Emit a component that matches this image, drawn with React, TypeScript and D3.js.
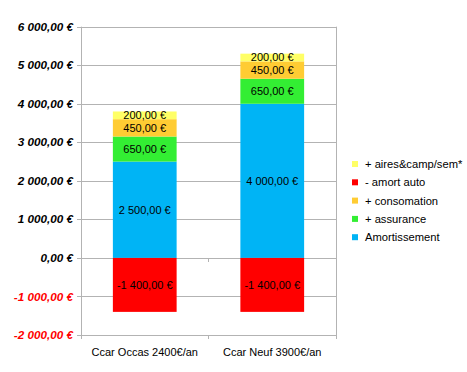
import * as d3 from "d3";
import { useEffect, useRef } from "react";

const categories = ["Ccar Occas 2400€/an", "Ccar Neuf 3900€/an"];
const amortissement = [2500, 4000];
const assurance = [650, 650];
const consomation = [450, 450];
const aires = [200, 200];
const amortAuto = [-1400, -1400];
const yTicks = [-2000, -1000, 0, 1000, 2000, 3000, 4000, 5000, 6000];

const seriesNames = ["Amortissement", "+ assurance", "+ consomation", "+ aires&camp/sem*", "- amort auto"];
const seriesColors = ["#00b4f5", "#33ee33", "#ffcc33", "#ffff66", "#ff0000"];
const legendOrder = ["+ aires&camp/sem*", "- amort auto", "+ consomation", "+ assurance", "Amortissement"];

export default function App() {
  const svgRef = useRef(null);

  useEffect(() => {
    const width = 467;
    const height = 372;
    const svg = d3.select(svgRef.current).attr("width", width).attr("height", height);
    svg.selectAll("*").remove();

    const locale = d3.formatLocale({
      decimal: ",",
      thousands: " ",
      grouping: [3],
      currency: ["", " €"],
      minus: "-",
    });
    const fmt = (v) => locale.format(",.2f")(v) + " €";

    const table = categories.map((c, i) => ({
      cat: c,
      "Amortissement": amortissement[i],
      "+ assurance": assurance[i],
      "+ consomation": consomation[i],
      "+ aires&camp/sem*": aires[i],
      "- amort auto": amortAuto[i],
    }));

    const stack = d3.stack().keys(seriesNames).offset(d3.stackOffsetDiverging);
    const series = stack(table);

    const x = d3.scaleBand().domain(categories).range([81, 336]).paddingInner(0.5).paddingOuter(0.25);
    const xOuter = d3.scaleBand().domain(categories).range([81, 336]);
    const y = d3.scaleLinear().domain([-2000, 6000]).range([335, 26.7]);

    const grid = "#b3b3b3";
    const font = "'Liberation Sans', Arial, sans-serif";

    // grid lines
    svg
      .append("g")
      .selectAll("line")
      .data(yTicks)
      .enter()
      .append("line")
      .attr("x1", 77)
      .attr("x2", 336)
      .attr("y1", (d) => Math.round(y(d)) + 0.5)
      .attr("y2", (d) => Math.round(y(d)) + 0.5)
      .attr("stroke", grid);

    // frame
    svg.append("line").attr("x1", 81.5).attr("x2", 81.5).attr("y1", y(6000)).attr("y2", 339).attr("stroke", grid);
    svg.append("line").attr("x1", 336.5).attr("x2", 336.5).attr("y1", y(6000)).attr("y2", 339).attr("stroke", grid);
    svg
      .append("line")
      .attr("x1", xOuter(categories[1]))
      .attr("x2", xOuter(categories[1]))
      .attr("y1", 335)
      .attr("y2", 339)
      .attr("stroke", grid);
    svg
      .append("line")
      .attr("x1", xOuter(categories[1]))
      .attr("x2", xOuter(categories[1]))
      .attr("y1", Math.round(y(0)))
      .attr("y2", Math.round(y(0)) + 4)
      .attr("stroke", grid);

    // y tick labels
    svg
      .append("g")
      .selectAll("text")
      .data(yTicks)
      .enter()
      .append("text")
      .attr("x", 73)
      .attr("y", (d) => y(d))
      .attr("dy", "0.35em")
      .attr("text-anchor", "end")
      .style("font-family", font)
      .style("font-size", "11.7px")
      .style("font-weight", "bold")
      .style("font-style", "italic")
      .attr("fill", (d) => (d < 0 ? "#ff0000" : "#000"))
      .text((d) => fmt(d));

    // bars
    series.forEach((s, si) => {
      const g = svg.append("g");
      g.selectAll("rect")
        .data(s)
        .enter()
        .append("rect")
        .attr("x", (d) => x(d.data.cat))
        .attr("width", x.bandwidth())
        .attr("y", (d) => y(Math.max(d[0], d[1])))
        .attr("height", (d) => Math.abs(y(d[0]) - y(d[1])))
        .attr("fill", seriesColors[si]);
      g.selectAll("text")
        .data(s)
        .enter()
        .append("text")
        .attr("x", (d) => x(d.data.cat) + x.bandwidth() / 2)
        .attr("y", (d) => y((d[0] + d[1]) / 2))
        .attr("dy", "0.35em")
        .attr("text-anchor", "middle")
        .style("font-family", font)
        .style("font-size", "11px")
        .attr("fill", "#000")
        .text((d) => fmt(d.data[s.key]));
    });

    // category labels
    svg
      .append("g")
      .selectAll("text")
      .data(categories)
      .enter()
      .append("text")
      .attr("x", (d) => xOuter(d) + xOuter.bandwidth() / 2)
      .attr("y", 356)
      .attr("text-anchor", "middle")
      .style("font-family", font)
      .style("font-size", "11px")
      .text((d) => d);

    // legend
    const legend = svg
      .append("g")
      .selectAll("g")
      .data(legendOrder)
      .enter()
      .append("g")
      .attr("transform", (d, i) => `translate(352, ${164 + i * 18.3})`);
    legend
      .append("rect")
      .attr("x", 0)
      .attr("y", -3)
      .attr("width", 6)
      .attr("height", 6)
      .attr("fill", (d) => seriesColors[seriesNames.indexOf(d)]);
    legend
      .append("text")
      .attr("x", 13)
      .attr("y", 0)
      .attr("dy", "0.35em")
      .style("font-family", font)
      .style("font-size", "11.2px")
      .text((d) => d);
  }, []);

  return <svg ref={svgRef} style={{ position: "absolute", left: 0, top: 0, background: "#fff" }}></svg>;
}
